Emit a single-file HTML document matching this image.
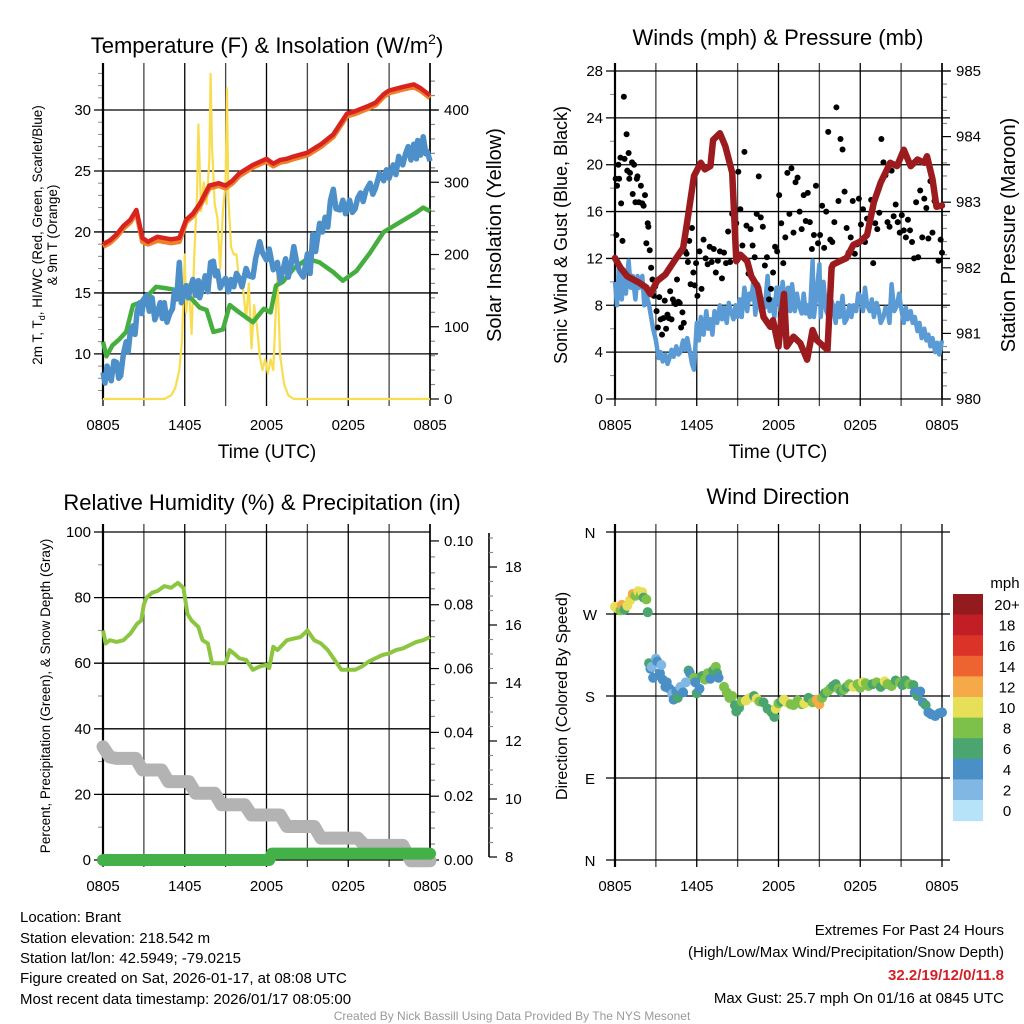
<!DOCTYPE html>
<html><head><meta charset="utf-8"><style>
html,body{margin:0;padding:0;background:#fff}
svg{display:block;font-family:"Liberation Sans",sans-serif}
</style></head><body>
<svg id="s" width="1024" height="1024" viewBox="0 0 1024 1024" xmlns="http://www.w3.org/2000/svg">
<rect width="1024" height="1024" fill="#fff"/>
<g font-size="22" text-anchor="middle" fill="#000">
<text x="267" y="53">Temperature (F) &amp; Insolation (W/m<tspan font-size="14" dy="-9">2</tspan><tspan dy="9">)</tspan></text>
<text x="778" y="45">Winds (mph) &amp; Pressure (mb)</text>
<text x="262" y="510">Relative Humidity (%) &amp; Precipitation (in)</text>
<text x="778" y="504">Wind Direction</text>
</g>
<g font-size="19" text-anchor="middle">
<text x="267" y="458">Time (UTC)</text>
<text x="778" y="458">Time (UTC)</text>
<text transform="translate(501,235) rotate(-90)" font-size="20">Solar Insolation (Yellow)</text>
<text transform="translate(1015,235) rotate(-90)" font-size="20">Station Pressure (Maroon)</text>
<text transform="translate(567,235) rotate(-90)" font-size="18">Sonic Wind &amp; Gust (Blue, Black)</text>
<text transform="translate(567,696) rotate(-90)" font-size="16">Direction (Colored By Speed)</text>
</g>
<g font-size="13.5" text-anchor="middle">
<text transform="translate(42,235) rotate(-90)">2m T, T<tspan font-size="9" dy="3">d</tspan><tspan dy="-3">, HI/WC (Red, Green, Scarlet/Blue)</tspan></text>
<text transform="translate(57,235) rotate(-90)">&amp; 9m T (Orange)</text>
<text transform="translate(50,696) rotate(-90)">Percent, Precipitation (Green), &amp; Snow Depth (Gray)</text>
</g>
<g font-size="15" fill="#000">
<text x="20" y="922">Location: Brant</text>
<text x="20" y="943">Station elevation: 218.542 m</text>
<text x="20" y="963">Station lat/lon: 42.5949; -79.0215</text>
<text x="20" y="983">Figure created on Sat, 2026-01-17, at 08:08 UTC</text>
<text x="20" y="1004">Most recent data timestamp: 2026/01/17 08:05:00</text>
<g text-anchor="end">
<text x="1004" y="935">Extremes For Past 24 Hours</text>
<text x="1004" y="957">(High/Low/Max Wind/Precipitation/Snow Depth)</text>
<text x="1004" y="980" fill="#d42027" font-weight="bold">32.2/19/12/0/11.8</text>
<text x="1004" y="1003">Max Gust: 25.7 mph On 01/16 at 0845 UTC</text>
</g>
</g>
<text x="512" y="1020" font-size="12" fill="#999" text-anchor="middle">Created By Nick Bassill Using Data Provided By The NYS Mesonet</text>
</svg>
<script>
// ---------- DATA ----------
const xLabels = ["0805","1405","2005","0205","0805"];
const redT = [0,0.5,1,1.5,2,2.45,2.9,3.3,4,5,5.6,6.1,6.6,7.1,7.8,8.5,9,9.5,10,11,12,12.5,13,13.5,14,15,16,16.9,17.9,18.5,19.4,20,20.6,21,22,22.8,23.3,24];
const redV = [19,19.3,19.8,20.5,21,21.8,19.5,19.2,19.6,19.4,19.5,21,21.5,22.3,23.8,24,23.8,24.2,24.8,25.5,26,25.6,25.9,26,26.2,26.5,27.2,28,29.7,29.9,30.3,30.6,31.3,31.6,31.9,32.1,31.8,31.2];
const orangeV = [18.8,19.1,19.6,20.3,20.8,21.6,19.2,19,19.3,19.1,19.2,20.8,21.3,22.1,23.6,23.8,23.6,24,24.6,25.3,25.8,25.4,25.7,25.8,26,26.3,27,27.8,29.5,29.7,30.1,30.4,31.1,31.4,31.7,31.9,31.6,31];
const blueT = [0,0.15,0.3,0.45,0.6,0.8,1,1.15,1.3,1.5,1.7,1.85,2,2.2,2.35,2.5,2.7,2.85,3,3.2,3.4,3.6,3.8,4,4.2,4.35,4.5,4.7,4.9,5.1,5.25,5.4,5.6,5.75,5.9,6.1,6.25,6.4,6.6,6.8,7,7.1,7.3,7.5,7.7,7.9,8.1,8.25,8.4,8.6,8.8,9,9.2,9.4,9.6,9.8,10,10.2,10.5,10.7,11,11.2,11.5,11.7,12,12.2,12.5,12.8,13,13.2,13.4,13.6,13.8,14,14.2,14.4,14.7,14.9,15,15.2,15.4,15.6,15.9,16.1,16.3,16.5,16.7,16.9,17.1,17.4,17.6,17.8,18.1,18.3,18.5,18.7,18.9,19.1,19.3,19.6,19.8,20,20.3,20.6,20.8,21,21.3,21.5,21.7,22,22.2,22.4,22.6,22.8,23,23.1,23.3,23.5,23.7,23.8,24];
const blueV = [8.5,7.6,9,8.4,7.8,9.4,9.3,8,8.2,10,11,10.2,11.8,12.3,11.6,13.5,14.2,13.3,14.5,14.8,13.5,14.6,12.8,13.4,14.2,12.9,14.2,12.6,13.3,13.7,15.2,14.5,17.5,14.2,14.8,15.6,14.6,15.3,16.1,14.8,16,14.6,15.4,16.4,15.1,17.5,17.6,16.4,16.8,15.4,15.9,16.2,15.1,16.1,15.5,16.6,16.2,15.5,17,16.4,16.3,17.8,19.2,18.3,17.7,18.6,16.9,17.5,16,16.8,17.8,16.3,17.3,18.8,17.6,16.8,16.3,17.5,18.2,16.6,19.8,18.4,20.7,20,21.2,20.4,22.6,23.5,21.9,21.8,22.6,21.5,22.6,21.6,21.9,22.8,23.2,22.5,23.4,24,23.1,23.6,24.8,24.2,25.1,24.4,25.5,24.7,26.2,25.5,26.4,27,25.9,27.2,26,27.5,26.3,27.8,26.4,26.6,25.8,26.2];
const greenT = [0,0.25,0.7,1.2,1.7,2.2,2.7,3.3,3.9,4.5,5.1,6.1,7.1,7.6,8.1,8.8,9.3,10,11,11.8,12.3,12.7,13.2,14,15,15.9,16.9,17.6,18.6,19.6,20.6,21.8,23,23.5,24];
const greenV = [11,9.8,10.7,11.2,11.8,14,14.2,14.8,15.5,15.4,15.3,15,13.8,13.6,11.8,12,14,13.4,12.6,13.7,13.4,15.6,15.9,17,17.8,17.5,16.7,16,16.8,18.3,20,20.8,21.6,22,21.7];
const solT = [0,4.5,5,5.3,5.6,5.8,6.0,6.1,6.3,6.5,6.7,6.9,7.0,7.2,7.4,7.6,7.8,7.9,8.0,8.2,8.4,8.6,8.8,9.0,9.1,9.2,9.4,9.6,9.8,10.0,10.3,10.5,10.7,10.9,11.1,11.3,11.5,11.7,11.9,12.1,12.3,12.5,12.7,12.8,13.0,13.3,13.6,14,24];
const solV = [0,0,5,15,40,80,200,120,160,90,200,280,380,260,300,270,330,450,350,270,250,180,260,300,430,280,210,200,200,160,150,110,160,70,130,100,60,40,55,35,55,40,130,170,60,20,5,0,0];
const presT = [0,0.4,0.9,1.8,2.3,2.6,3.1,3.7,4.5,5,5.3,5.8,6.3,6.6,7,7.2,7.7,8.1,8.6,8.9,9.2,9.7,10,10.5,10.9,11.4,11.6,12,12.4,12.6,13.1,13.6,14.1,14.5,14.8,15.6,15.9,16,16.5,17,17.5,18,18.5,19,19.5,20.2,20.7,21.2,21.7,22.2,22.7,22.9,23.3,23.6,24];
const presV = [982.15,982,981.87,981.77,981.7,981.6,981.8,981.9,982.15,982.3,982.7,983.4,983.6,983.5,983.55,983.95,984.05,983.85,983.45,982.1,982.2,982.1,981.87,981.7,981.25,981.1,981.2,980.8,981.6,980.8,980.95,980.85,980.6,981.05,980.9,980.75,982.0,982.05,982.1,982.15,982.35,982.4,982.5,983,983.3,983.6,983.55,983.8,983.55,983.65,983.6,983.7,983.35,982.93,982.95];
const windT = [0,0.15,0.3,0.5,0.65,0.8,1,1.15,1.3,1.5,1.65,1.8,2,2.15,2.3,2.5,2.65,2.8,3,3.2,3.35,3.5,3.7,3.85,4,4.15,4.3,4.5,4.65,4.8,5,5.15,5.3,5.5,5.65,5.8,6,6.15,6.3,6.5,6.7,6.85,7,7.15,7.3,7.5,7.7,7.85,8,8.2,8.35,8.5,8.7,8.85,9,9.15,9.3,9.5,9.7,9.85,10,10.15,10.3,10.5,10.7,10.85,11,11.2,11.35,11.5,11.7,11.85,12,12.15,12.3,12.5,12.7,12.85,13,13.2,13.35,13.5,13.7,13.85,14,14.15,14.3,14.5,14.6,14.8,15,15.1,15.3,15.5,15.7,15.85,16,16.2,16.35,16.5,16.7,16.85,17,17.2,17.35,17.5,17.7,17.85,18,18.2,18.35,18.5,18.7,18.85,19,19.2,19.35,19.5,19.7,19.85,20,20.15,20.3,20.5,20.7,20.85,21,21.2,21.35,21.5,21.7,21.85,22,22.2,22.35,22.5,22.7,22.85,23,23.15,23.3,23.5,23.65,23.8,24];
const windV = [10,8,11.5,8.5,11,9,11.8,9.5,10.5,8.5,10.5,9.5,10.5,8,9,8,7,6,5,3.5,4,3.2,3.8,3,3.5,4.2,3.6,4.5,3.8,4,5,4.2,5.2,4,3,2.5,6.5,5,7,5.5,7.5,6,6.8,5.5,7.5,6.5,8,6.8,7.8,6.5,8.2,7.5,6.8,8,7,8.5,7,9.5,7.5,9,8.5,10,7.2,9.8,7.5,8.5,7.8,10.5,7.5,8.5,7,9.5,9.5,7.5,10,8,9.5,7.5,9.8,7.5,9,8,7.3,9,7.3,8,7,11.8,7,9,11.5,7,10,7.5,7,8.5,8,6.5,8.2,7,8.8,6.5,6.8,8,7,8,7.5,9,8.8,7.5,9.5,8,7.5,8.5,7,8.2,7.6,6.5,7,7.8,7.6,6.5,9.8,7.5,8,9,7.8,6.5,7.8,6.8,7.5,6.5,7,5.8,6.5,5.2,6,5,5.5,4.5,5.2,4,4.8,3.8,5];
const gustT = [0.05,0.1,0.15,0.25,0.3,0.4,0.45,0.55,0.65,0.7,0.85,0.9,1,1.05,1.1,1.25,1.3,1.4,1.5,1.6,1.65,1.75,1.9,2,2.1,2.2,2.3,2.4,2.45,2.55,2.65,2.75,2.85,2.95,3.05,3.15,3.25,3.35,3.45,3.55,3.65,3.75,3.85,3.95,4.05,4.15,4.25,4.35,4.45,4.55,4.65,4.75,4.85,4.95,5.05,5.15,5.25,5.35,5.45,5.55,5.65,5.75,5.85,5.95,6.05,6.2,6.35,6.5,6.65,6.8,6.95,7.1,7.25,7.4,7.55,7.7,7.85,8,8.15,8.3,8.45,8.6,8.75,8.9,9.05,9.2,9.35,9.5,9.65,9.8,9.95,10.1,10.25,10.4,10.55,10.7,10.85,11,11.15,11.3,11.45,11.6,11.75,11.9,12.05,12.2,12.35,12.5,12.65,12.8,12.95,13.1,13.25,13.4,13.55,13.7,13.85,14,14.15,14.3,14.45,14.6,14.75,14.9,15.05,15.2,15.35,15.5,15.65,15.8,15.95,16.1,16.25,16.4,16.55,16.7,16.85,17,17.15,17.3,17.45,17.6,17.75,17.9,18.05,18.2,18.35,18.5,18.65,18.8,18.95,19.1,19.25,19.4,19.55,19.7,19.85,20,20.15,20.3,20.45,20.6,20.75,20.9,21.05,21.2,21.35,21.5,21.65,21.8,21.95,22.1,22.25,22.4,22.55,22.7,22.85,23,23.15,23.3,23.45,23.6,23.75,23.9,24];
const gustV = [18.8,14,18.2,20,18.8,20.6,16.7,13.5,25.8,20.5,22.6,19.5,21,18.8,19.3,20.2,17.5,20,16.8,18.8,19,16.8,18.2,16.7,16.5,17.4,13.3,15,14.7,12.7,11.2,10.2,8.8,9.6,7.5,6.1,8.7,6.8,5.5,6.9,8.4,6,7.2,6.9,9.2,6.8,8.5,8.2,8.1,10.2,8.3,8.2,6.1,7.4,6.5,12.6,12.4,11.7,13.5,9.8,14.6,10.8,9.7,11.6,8.8,12.6,9.4,13.6,12,11.5,13,11.7,12.8,10.8,11.8,12.6,10.3,12.5,11.6,14.3,11.7,15.8,15.7,15,19.4,16.2,13.1,21.1,14.8,10.7,14.5,13.1,12.1,15.8,19,15.5,14.7,11.4,12.1,8.5,9.4,10.8,13,12.6,17.4,15,11.6,13.8,19.3,15.8,19.7,14.2,18.5,18.9,16,14.5,17.4,15.2,17.6,15.1,12.8,14,18.2,13.3,14,16.5,12.9,16,22.8,13.6,13.4,15.1,24.9,16.9,22.2,21.3,17.7,14.6,12.5,13.8,16.9,12.4,13.2,17.1,14.9,16.2,13.4,15.4,14.9,17,11.6,15,14.5,15.9,22.2,20.2,19.1,15.1,14.7,19.5,15.6,16.6,15.1,14.2,15.7,14.4,13.8,15.3,14.4,13.4,12,16.8,12.1,17.8,13.8,17.1,16.3,13.7,18.6,14.2,16.9,16.6,11.8,13.6,12.5,12.1,12.2,11,10.7,10.5,11.7,8.8,9.1,11.2,7.8,9.2,6.5,7.8,9.2,8.2];
const rhT = [0,0.2,0.5,1,1.5,2,2.5,2.8,3,3.2,3.6,4,4.5,5,5.5,5.9,6.2,6.5,7,7.3,7.7,8,8.5,9,9.3,9.6,10,10.5,11,11.5,12,12.2,12.5,12.8,13.5,14,14.5,15,15.5,16,16.5,17,17.5,18,18.5,19,19.5,20,20.5,21,21.5,22,22.5,23,23.5,24];
const rhV = [70,66,67,66.5,67,69,72,73,78,80,81.5,82,83.5,83,84.5,83,75,73,71,67,66,60,60,60,64,63,61.5,61,58,59,59.5,58.5,65,64,67,67.5,68,70,67,66,64,61,58,58,58,59,60.5,61.5,62.5,63,64,64.5,65.5,66.5,67,68];
const snowT = [0,0.5,1,2.4,2.9,4.3,4.8,6.3,6.8,8.2,8.7,10.4,10.9,13,13.5,15.5,16,18.7,19.2,22,22.6,24];
const snowV = [11.8,11.45,11.4,11.4,11.0,11.0,10.6,10.6,10.2,10.2,9.8,9.8,9.45,9.45,9.05,9.05,8.65,8.65,8.4,8.4,7.87,7.87];
const precipT = [0,12.2,12.4,24];
const precipV = [0,0,0.002,0.002];
const dirT = [0,0.2,0.4,0.5,0.7,0.9,1.1,1.3,1.5,1.7,1.9,2.0,2.1,2.3,2.4,2.5,2.6,2.7,2.8,3.0,3.1,3.3,3.4,3.5,3.7,3.8,4.0,4.2,4.3,4.5,4.6,4.8,5.0,5.2,5.4,5.5,5.8,5.9,6.0,6.2,6.4,6.6,6.8,7.0,7.2,7.4,7.5,7.6,8.0,8.2,8.4,8.6,8.8,8.9,9.1,9.3,9.6,9.9,10.2,10.4,10.6,10.9,11.2,11.5,11.7,11.8,12.0,12.2,12.4,12.6,12.9,13.1,13.4,13.7,13.9,14.2,14.5,14.8,15.0,15.2,15.4,15.6,15.8,16.0,16.2,16.4,16.6,16.8,17.0,17.2,17.5,17.8,18.0,18.2,18.4,18.6,18.9,19.2,19.5,19.8,20.0,20.3,20.6,20.9,21.1,21.3,21.6,21.9,22.0,22.2,22.4,22.6,22.8,23.0,23.2,23.5,23.8,24.0];
const dirV = [278,276,274,280,275,279,285,292,290,295,291,294,288,286,272,216,210,212,200,221,218,205,214,198,190,195,188,182,176,185,178,190,184,195,208,205,200,195,183,188,202,198,205,199,208,212,205,200,190,184,178,180,170,163,167,174,175,178,180,177,174,173,166,162,157,166,172,174,176,173,171,170,175,171,172,178,173,176,171,178,183,185,188,191,193,188,185,187,190,193,190,193,189,195,194,191,193,195,190,196,193,191,197,195,192,197,193,192,184,180,185,173,170,162,160,158,161,162,163,162];
const dirS = [10,10,9,12,7,10,10,12,9,10,8,10,7,8,6,6,4,3,4,2,4,4,2,4,4,4,4,3,4,4,6,3,4,2,6,4,8,4,6,4,6,8,8,4,6,8,6,4,8,8,8,8,6,6,6,8,10,10,6,10,8,6,6,6,6,10,8,6,10,10,8,8,8,8,10,6,8,12,12,8,6,8,8,6,6,8,6,8,6,8,10,8,8,10,8,8,6,8,6,10,8,8,6,8,6,6,8,6,4,6,4,4,6,4,4,4,4,4,4,4];
const cbLabels = ["20+","18","16","14","12","10","8","6","4","2","0"];
const cbColors = ["#931a1d","#c11e26","#dc3328","#ee6430","#f5a948","#e8df59","#7dc14a","#4ba56e","#4a8fc6","#80b8e3","#b6e3f7"];

// ---------- DRAW ----------
const NS = "http://www.w3.org/2000/svg";
const svg = document.getElementById("s");
function mk(tag, attrs, parent, name) {
  const el = document.createElementNS(NS, tag);
  for (const k in attrs) el.setAttribute(k, attrs[k]);
  
  
  (parent || svg).appendChild(el);
  return el;
}
function txt(x, y, s, size, anchor, name) {
  const t = mk("text", {x: x, y: y, "font-size": size, "text-anchor": anchor}, svg, name);
  t.textContent = s;
  return t;
}
function lin(d0, d1, r0, r1) { return v => r0 + (v - d0) / (d1 - d0) * (r1 - r0); }
function pathFrom(ts, vs, xs, ys) {
  let d = "";
  for (let i = 0; i < ts.length; i++) d += (i ? "L" : "M") + xs(ts[i]).toFixed(1) + "," + ys(vs[i]).toFixed(1);
  return d;
}
function frame(x0, x1, yT, yB, nameP) {
  const xs = lin(0, 24, x0, x1);
  for (let h = 0; h <= 24; h += 3) {
    const x = xs(h);
    mk("line", {x1: x, x2: x, y1: yT - 8, y2: yB + 7, stroke: (h % 6 ? "#444" : "#000"), "stroke-width": 1.3}, svg, nameP + "-x-grid");
  }
  for (let i = 0; i < xLabels.length; i++) txt(xs(i * 6), yB + 31, xLabels[i], 15, "middle", nameP + "-x-tick-label");
  return xs;
}
function leftAxis(x0, x1, yT, yB, d0, d1, major, minor, nameP, fmt, rightExt) {
  const ys = lin(d0, d1, yB, yT);
  for (let v = Math.ceil(d0 / minor) * minor; v <= d1 + 1e-9; v += minor) {
    const y = ys(v);
    const isMaj = Math.abs(v / major - Math.round(v / major)) < 1e-6;
    if (isMaj) {
      mk("line", {x1: x0 - 9, x2: x1 + (rightExt || 0), y1: y, y2: y, stroke: "#000", "stroke-width": 1.3}, svg, nameP + "-y-grid");
      txt(x0 - 12, y + 5, fmt(v), 15, "end", nameP + "-y-tick-label");
    } else {
      mk("line", {x1: x0 - 5, x2: x0, y1: y, y2: y, stroke: "#888", "stroke-width": 1}, svg, nameP + "-y-minor-tick");
    }
  }
  return ys;
}
function rightAxis(ax, yT, yB, d0, d1, major, minor, nameP, fmt, lx) {
  const ys = lin(d0, d1, yB, yT);
  for (let v = Math.ceil(d0 / minor - 1e-9) * minor; v <= d1 + 1e-9; v += minor) {
    const y = ys(v);
    const isMaj = Math.abs(v / major - Math.round(v / major)) < 1e-6;
    mk("line", {x1: ax, x2: ax + (isMaj ? 9 : 5), y1: y, y2: y, stroke: isMaj ? "#000" : "#888", "stroke-width": 1.2}, svg, nameP + "-right-tick");
    if (isMaj) txt(lx || ax + 14, y + 5, fmt(v), 15, "start", nameP + "-right-tick-label");
  }
  return ys;
}
function box(x0, x1, yT, yB, name) {
  mk("line", {x1: x0, x2: x0, y1: yT - 8, y2: yB, stroke: "#000", "stroke-width": 2.2}, svg, name + "-left-axis");
  mk("line", {x1: x1, x2: x1, y1: yT - 8, y2: yB, stroke: "#000", "stroke-width": 1.6}, svg, name + "-right-axis");
}

// Panel 1: temperature
{
  const x0 = 103, x1 = 430, yT = 71, yB = 399;
  const xs = frame(x0, x1, yT, yB, "temp");
  const ys = leftAxis(x0, x1, yT, yB, 6.3, 33.2, 5, 1, "temp", v => String(Math.round(v)), 8);
  const ysR = rightAxis(x1, yT, yB, 0, 454, 100, 20, "insolation", v => String(Math.round(v)));
  box(x0, x1, yT, yB, "temp");
  mk("path", {d: pathFrom(solT, solV, xs, ysR), fill: "none", stroke: "#f7dd4f", "stroke-width": 2.2, "stroke-linejoin": "round"}, svg, "insolation-line");
  mk("path", {d: pathFrom(greenT, greenV, xs, ys), fill: "none", stroke: "#45ae3e", "stroke-width": 4.5, "stroke-linejoin": "round"}, svg, "hiwc-line");
  mk("path", {d: pathFrom(blueT, blueV, xs, ys), fill: "none", stroke: "#4c8fc9", "stroke-width": 5.5, "stroke-linejoin": "round"}, svg, "dewpoint-line");
  mk("path", {d: pathFrom(redT, orangeV, xs, ys), fill: "none", stroke: "#f07f2a", "stroke-width": 5, "stroke-linejoin": "round"}, svg, "temp-9m-line");
  mk("path", {d: pathFrom(redT, redV, xs, ys), fill: "none", stroke: "#d8241f", "stroke-width": 4.5, "stroke-linejoin": "round"}, svg, "temp-2m-line");
}
// Panel 2: winds
{
  const x0 = 615, x1 = 942, yT = 71, yB = 399;
  const xs = frame(x0, x1, yT, yB, "wind");
  const ys = leftAxis(x0, x1, yT, yB, 0, 28, 4, 2, "wind", v => String(Math.round(v)), 8);
  const ysR = rightAxis(x1, yT, yB, 980, 985, 1, 0.2, "pressure", v => String(Math.round(v)));
  box(x0, x1, yT, yB, "wind");
  mk("path", {d: pathFrom(windT, windV, xs, ys), fill: "none", stroke: "#5b9bd5", "stroke-width": 4.5, "stroke-linejoin": "round"}, svg, "wind-speed-line");
  for (let i = 0; i < gustT.length; i++) {
    mk("circle", {cx: xs(gustT[i]), cy: ys(gustV[i]), r: 3, fill: "#000"}, svg, "gust-point");
  }
  mk("path", {d: pathFrom(presT, presV, xs, ysR), fill: "none", stroke: "#9b1b1e", "stroke-width": 6.5, "stroke-linejoin": "round", "stroke-linecap": "round"}, svg, "pressure-line");
}
// Panel 3: RH
{
  const x0 = 103, x1 = 430, yT = 532, yB = 860;
  const xs = frame(x0, x1, yT, yB, "rh");
  const ys = leftAxis(x0, x1, yT, yB, 0, 100, 20, 10, "rh", v => String(Math.round(v)), 0);
  const ysP = rightAxis(x1, yT, yB, 0, 0.1028, 0.02, 0.005, "precip", v => v.toFixed(2));
  box(x0, x1, yT, yB, "rh");
  const ysS = lin(8, 18, 857, 567);
  mk("line", {x1: 489, x2: 489, y1: 533, y2: 857, stroke: "#000", "stroke-width": 1.6}, svg, "snow-axis");
  for (let v = 8; v <= 19; v += 0.5) {
    const maj = v % 2 === 0;
    mk("line", {x1: 489, x2: 489 + (maj ? 8 : 4), y1: ysS(v), y2: ysS(v), stroke: maj ? "#000" : "#888", "stroke-width": 1.2}, svg, "snow-tick");
    if (maj) txt(505, ysS(v) + 5, String(v), 15, "start", "snow-tick-label");
  }
  mk("path", {d: pathFrom(snowT, snowV, xs, ysS), fill: "none", stroke: "#b3b3b3", "stroke-width": 13, "stroke-linejoin": "round", "stroke-linecap": "round"}, svg, "snow-depth-line");
  mk("path", {d: pathFrom(precipT, precipV, xs, ysP), fill: "none", stroke: "#44b048", "stroke-width": 12, "stroke-linejoin": "round", "stroke-linecap": "round"}, svg, "precip-line");
  mk("path", {d: pathFrom(rhT, rhV, xs, ys), fill: "none", stroke: "#8cc640", "stroke-width": 4, "stroke-linejoin": "round"}, svg, "rh-line");
}
// Panel 4: direction
{
  const x0 = 615, x1 = 942, yT = 532, yB = 860;
  const xs = frame(x0, x1, yT, yB, "dir");
  const ys = lin(0, 360, yB, yT);
  const dl = ["N","E","S","W","N"];
  for (let i = 0; i < 5; i++) {
    const y = ys(i * 90);
    mk("line", {x1: 606, x2: 950, y1: y, y2: y, stroke: "#000", "stroke-width": 1.3}, svg, "dir-y-grid");
    txt(590, y + 6, dl[i], 15, "middle", "dir-tick-label");
  }
  mk("line", {x1: x0, x2: x0, y1: yT - 8, y2: yB + 7, stroke: "#000", "stroke-width": 2.2}, svg, "dir-left-axis");
  for (let i = 0; i < dirT.length; i++) {
    const ci = Math.max(0, Math.min(10, 10 - Math.floor(dirS[i] / 2)));
    mk("circle", {cx: xs(dirT[i]), cy: ys(dirV[i]), r: 5, fill: cbColors[ci]}, svg, "direction-point");
  }
  txt(1005, 588, "mph", 15, "middle", "colorbar-title");
  const bh = 20.6;
  for (let i = 0; i < cbColors.length; i++) {
    mk("rect", {x: 953, y: 594 + i * bh, width: 30, height: bh + 0.5, fill: cbColors[i]}, svg, "colorbar-swatch");
    txt(1007, 594 + i * bh + 16, cbLabels[i], 15, "middle", "colorbar-label");
  }
}
</script>
</body></html>
